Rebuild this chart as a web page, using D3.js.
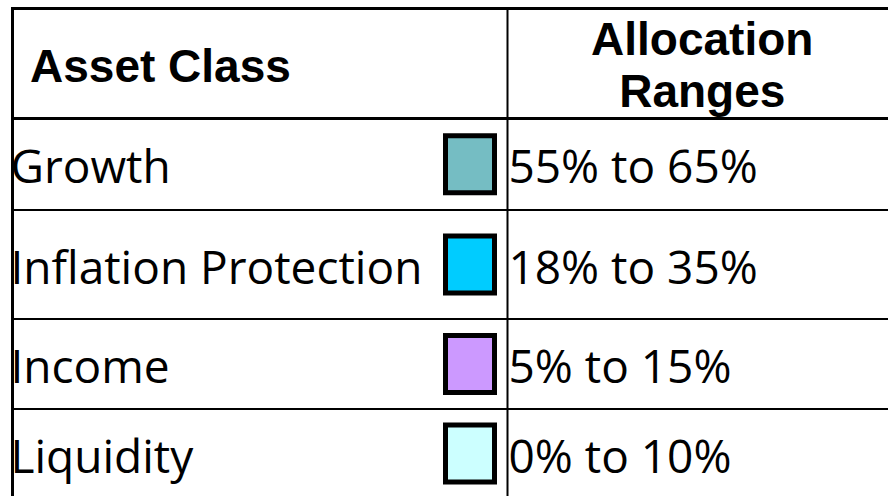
<!DOCTYPE html>
<html lang="en">
<head>
  <meta charset="UTF-8">
  <title>Asset Class Allocation Ranges</title>
  <style>
    html, body { margin: 0; padding: 0; background: #fff; }
    svg { display: block; }
    .head { font-family: "Liberation Sans", Arial, sans-serif; font-weight: bold; font-size: 46px; fill: #000; }
    .cell { font-family: "Open Sans", Lato, sans-serif; font-size: 46px; fill: #000; font-variant-ligatures: none; }
  </style>
</head>
<body>
<div class="table"></div>
<script src="https://cdn.jsdelivr.net/npm/d3@7"></script>
<script>
  // data
  const assetClasses = ["Growth", "Inflation Protection", "Income", "Liquidity"];
  const allocationRanges = ["55% to 65%", "18% to 35%", "5% to 15%", "0% to 10%"];
  const swatchColors = ["#75bdc3", "#00ccff", "#cc99ff", "#ccffff"];
  const headerLeft = "Asset Class";
  const headerRight = ["Allocation", "Ranges"];

  // layout
  const width = 888, height = 496;
  const tableLeft = 12.5, tableRight = 897, tableTop = 8.5, midX = 507.5;
  const headerBottom = 118.5;
  const rowHeights = [91.5, 109, 90, 89];

  const svg = d3.select(".table").append("svg")
    .attr("width", width)
    .attr("height", height);

  // row edges from the row heights
  const rowEdges = [headerBottom];
  rowHeights.forEach(h => rowEdges.push(rowEdges[rowEdges.length - 1] + h));
  const rowCenter = i => (rowEdges[i] + rowEdges[i + 1]) / 2;

  /**
   * Header
   */
  svg.append("text")
    .attr("class", "head")
    .attr("x", 30)
    .attr("y", 82)
    .text(headerLeft);

  const rightCenter = (midX + tableRight) / 2;
  svg.selectAll(".head-right")
    .data(headerRight)
    .enter()
    .append("text")
    .attr("class", "head head-right")
    .attr("text-anchor", "middle")
    .attr("x", rightCenter)
    .attr("y", (d, i) => 55 + i * 52)
    .text(d => d);

  /**
   * Rows
   */
  const rows = svg.selectAll(".row")
    .data(assetClasses)
    .enter()
    .append("g")
    .attr("class", "row")
    .attr("transform", (d, i) => `translate(0, ${rowCenter(i)})`);

  rows.append("text")
    .attr("class", "cell")
    .attr("x", tableLeft - 2)
    .attr("y", 19)
    .text(d => d);

  rows.append("rect")
    .attr("x", 445.5)
    .attr("y", -28.5)
    .attr("width", 49)
    .attr("height", 57)
    .attr("fill", (d, i) => swatchColors[i])
    .attr("stroke", "#000")
    .attr("stroke-width", 5);

  rows.append("text")
    .attr("class", "cell")
    .attr("x", midX + 1)
    .attr("y", 19)
    .text((d, i) => allocationRanges[i]);

  /**
   * Grid lines
   */
  const grid = svg.append("g").attr("stroke", "#000").attr("fill", "none");

  grid.append("line")
    .attr("x1", tableLeft).attr("x2", tableRight)
    .attr("y1", tableTop).attr("y2", tableTop)
    .attr("stroke-width", 3);

  grid.append("line")
    .attr("x1", tableLeft).attr("x2", tableRight)
    .attr("y1", headerBottom).attr("y2", headerBottom)
    .attr("stroke-width", 3);

  grid.selectAll(".row-line")
    .data(rowEdges.slice(1))
    .enter()
    .append("line")
    .attr("class", "row-line")
    .attr("x1", tableLeft).attr("x2", tableRight)
    .attr("y1", d => d).attr("y2", d => d)
    .attr("stroke-width", 2);

  grid.append("line")
    .attr("x1", tableLeft).attr("x2", tableLeft)
    .attr("y1", tableTop - 1.5).attr("y2", rowEdges[rowEdges.length - 1])
    .attr("stroke-width", 3);

  grid.append("line")
    .attr("x1", midX).attr("x2", midX)
    .attr("y1", tableTop).attr("y2", rowEdges[rowEdges.length - 1])
    .attr("stroke-width", 2);
</script>
</body>
</html>
